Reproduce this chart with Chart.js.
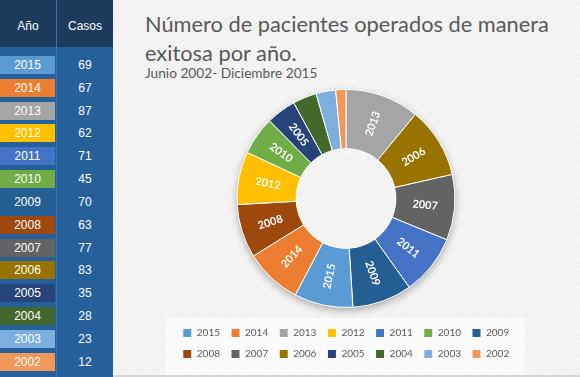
<!DOCTYPE html>
<html>
<head>
<meta charset="utf-8">
<script src="https://cdn.jsdelivr.net/npm/chart.js@4/dist/chart.umd.min.js"></script>
<style>
  html, body { margin: 0; padding: 0; }
  body {
    width: 580px; height: 377px; overflow: hidden; position: relative;
    background: repeating-linear-gradient(135deg, #f6f6f6 0px, #f6f6f6 2px, #ededed 2px, #ededed 3px);
  }
  #panel { position: absolute; left: 0; top: 0; width: 113px; height: 377px; background: #25609a; font-family: "Liberation Sans", Arial, sans-serif; color: #fff; font-size: 12px; }
  #head { position: absolute; left: 0; top: 0; width: 113px; height: 47px; background: #1c3b5d; }
  #head div { position: absolute; top: 0; line-height: 52px; text-align: center; }
  #divider { position: absolute; left: 56px; top: 0; width: 1px; height: 377px; background: #3c77b5; }
  .cell { position: absolute; left: 0; width: 55px; height: 18px; line-height: 18px; text-align: center; }
  .val { position: absolute; left: 57px; width: 56px; height: 18px; line-height: 18px; text-align: center; }
  #title { position: absolute; left: 145px; top: 9px; font-family: Lato, sans-serif; color: #595959; font-size: 21.8px; line-height: 29px; }
  #sub { position: absolute; left: 145px; top: 64px; font-family: Lato, sans-serif; color: #595959; font-size: 13.7px; }
  #bottomline { position: absolute; left: 113px; top: 375px; width: 467px; height: 2px; background: #d6d6d6; }
  #chart { position: absolute; left: 113px; top: 0; }
</style>
</head>
<body>
<div id="panel">
  <div id="head"><div style="left:0;width:56px">Año</div><div style="left:57px;width:56px">Casos</div></div>
  <div id="divider"></div>
  <div id="rows"></div>
</div>
<div id="title">Número de pacientes operados de manera<br>exitosa por año.</div>
<div id="sub">Junio 2002- Diciembre 2015</div>
<canvas id="chart" width="467" height="377"></canvas>
<div id="bottomline"></div>
<script>
var years = ['2015', '2014', '2013', '2012', '2011', '2010', '2009', '2008', '2007', '2006', '2005', '2004', '2003', '2002'];
var cases = [69, 67, 87, 62, 71, 45, 70, 63, 77, 83, 35, 28, 23, 12];
var yearColors = ['#5B9BD5', '#ED7D31', '#A5A5A5', '#FFC000', '#4472C4', '#70AD47', '#255E91',
                  '#9E480E', '#636363', '#997300', '#264478', '#43682B', '#7CAFDD', '#F1975A'];

// table on the left
var rows = document.getElementById('rows');
years.forEach(function(y, i) {
    var top = 56 + i * 22.83;
    rows.innerHTML += '<div class="cell" style="top:' + top + 'px;background:' + yearColors[i] + '">' + y + '</div>'
                    + '<div class="val" style="top:' + top + 'px">' + cases[i] + '</div>';
});

// slices go largest first, clockwise from the top
var order = years.map(function(y, i) { return i; }).sort(function(a, b) { return cases[b] - cases[a]; });

var ringShadow = {
    id: 'ringShadow',
    beforeDatasetsDraw: function(chart) {
        var arc = chart.getDatasetMeta(0).data[0];
        if (!arc) return;
        var ctx = chart.ctx;
        ctx.save();
        ctx.beginPath();
        ctx.rect(0, 0, chart.width, chart.height);
        ctx.moveTo(arc.x + arc.outerRadius, arc.y);
        ctx.arc(arc.x, arc.y, arc.outerRadius, 0, Math.PI * 2);
        ctx.clip('evenodd');
        ctx.beginPath();
        ctx.arc(arc.x, arc.y, arc.outerRadius - 1, 0, Math.PI * 2);
        ctx.shadowColor = 'rgba(0,0,0,0.38)';
        ctx.shadowBlur = 9;
        ctx.shadowOffsetY = 3;
        ctx.fillStyle = '#fff';
        ctx.fill();
        ctx.restore();
    }
};

var sliceLabels = {
    id: 'sliceLabels',
    afterDatasetsDraw: function(chart) {
        var ctx = chart.ctx;
        var labels = chart.data.labels;
        ctx.save();
        ctx.fillStyle = '#fff';
        ctx.font = 'bold 11px Lato';
        ctx.textAlign = 'center';
        ctx.textBaseline = 'middle';
        chart.getDatasetMeta(0).data.forEach(function(arc, i) {
            if (arc.endAngle - arc.startAngle < 0.25) return;
            var mid = (arc.startAngle + arc.endAngle) / 2;
            var r = (arc.innerRadius + arc.outerRadius) / 2;
            var rot = mid;
            if (Math.cos(rot) < 0) rot += Math.PI;
            ctx.save();
            ctx.translate(arc.x + Math.cos(mid) * r, arc.y + Math.sin(mid) * r);
            ctx.rotate(rot);
            ctx.fillText(labels[i], 0, 0);
            ctx.restore();
        });
        ctx.restore();
    }
};

var legendBack = {
    id: 'legendBack',
    beforeDraw: function(chart) {
        var lg = chart.legend;
        if (!lg || !lg.lineWidths) return;
        var w = Math.max.apply(null, lg.lineWidths);
        var cx = (lg.left + lg.right) / 2;
        var ctx = chart.ctx;
        ctx.save();
        ctx.fillStyle = 'rgba(252,252,252,0.85)';
        ctx.fillRect(cx - w / 2 - 12, lg.top + 1, w + 22, lg.bottom - lg.top + 10);
        ctx.restore();
    }
};

new Chart(document.getElementById('chart'), {
    type: 'doughnut',
    data: {
        labels: order.map(function(i) { return years[i]; }),
        datasets: [{
            data: order.map(function(i) { return cases[i]; }),
            backgroundColor: order.map(function(i) { return yearColors[i]; }),
            borderColor: '#ffffff',
            borderWidth: 1
        }]
    },
    options: {
        responsive: false,
        animation: false,
        radius: 109,
        cutout: 54,
        layout: { padding: { left: 40, right: 41, top: 80, bottom: 8 } },
        plugins: {
            tooltip: { enabled: false },
            legend: {
                position: 'bottom',
                labels: {
                    boxWidth: 9,
                    boxHeight: 9,
                    padding: 11,
                    color: '#595959',
                    font: { family: 'Lato', size: 10 },
                    sort: function(a, b) { return Number(b.text) - Number(a.text); }
                }
            }
        }
    },
    plugins: [ringShadow, sliceLabels, legendBack]
});
</script>
</body>
</html>
